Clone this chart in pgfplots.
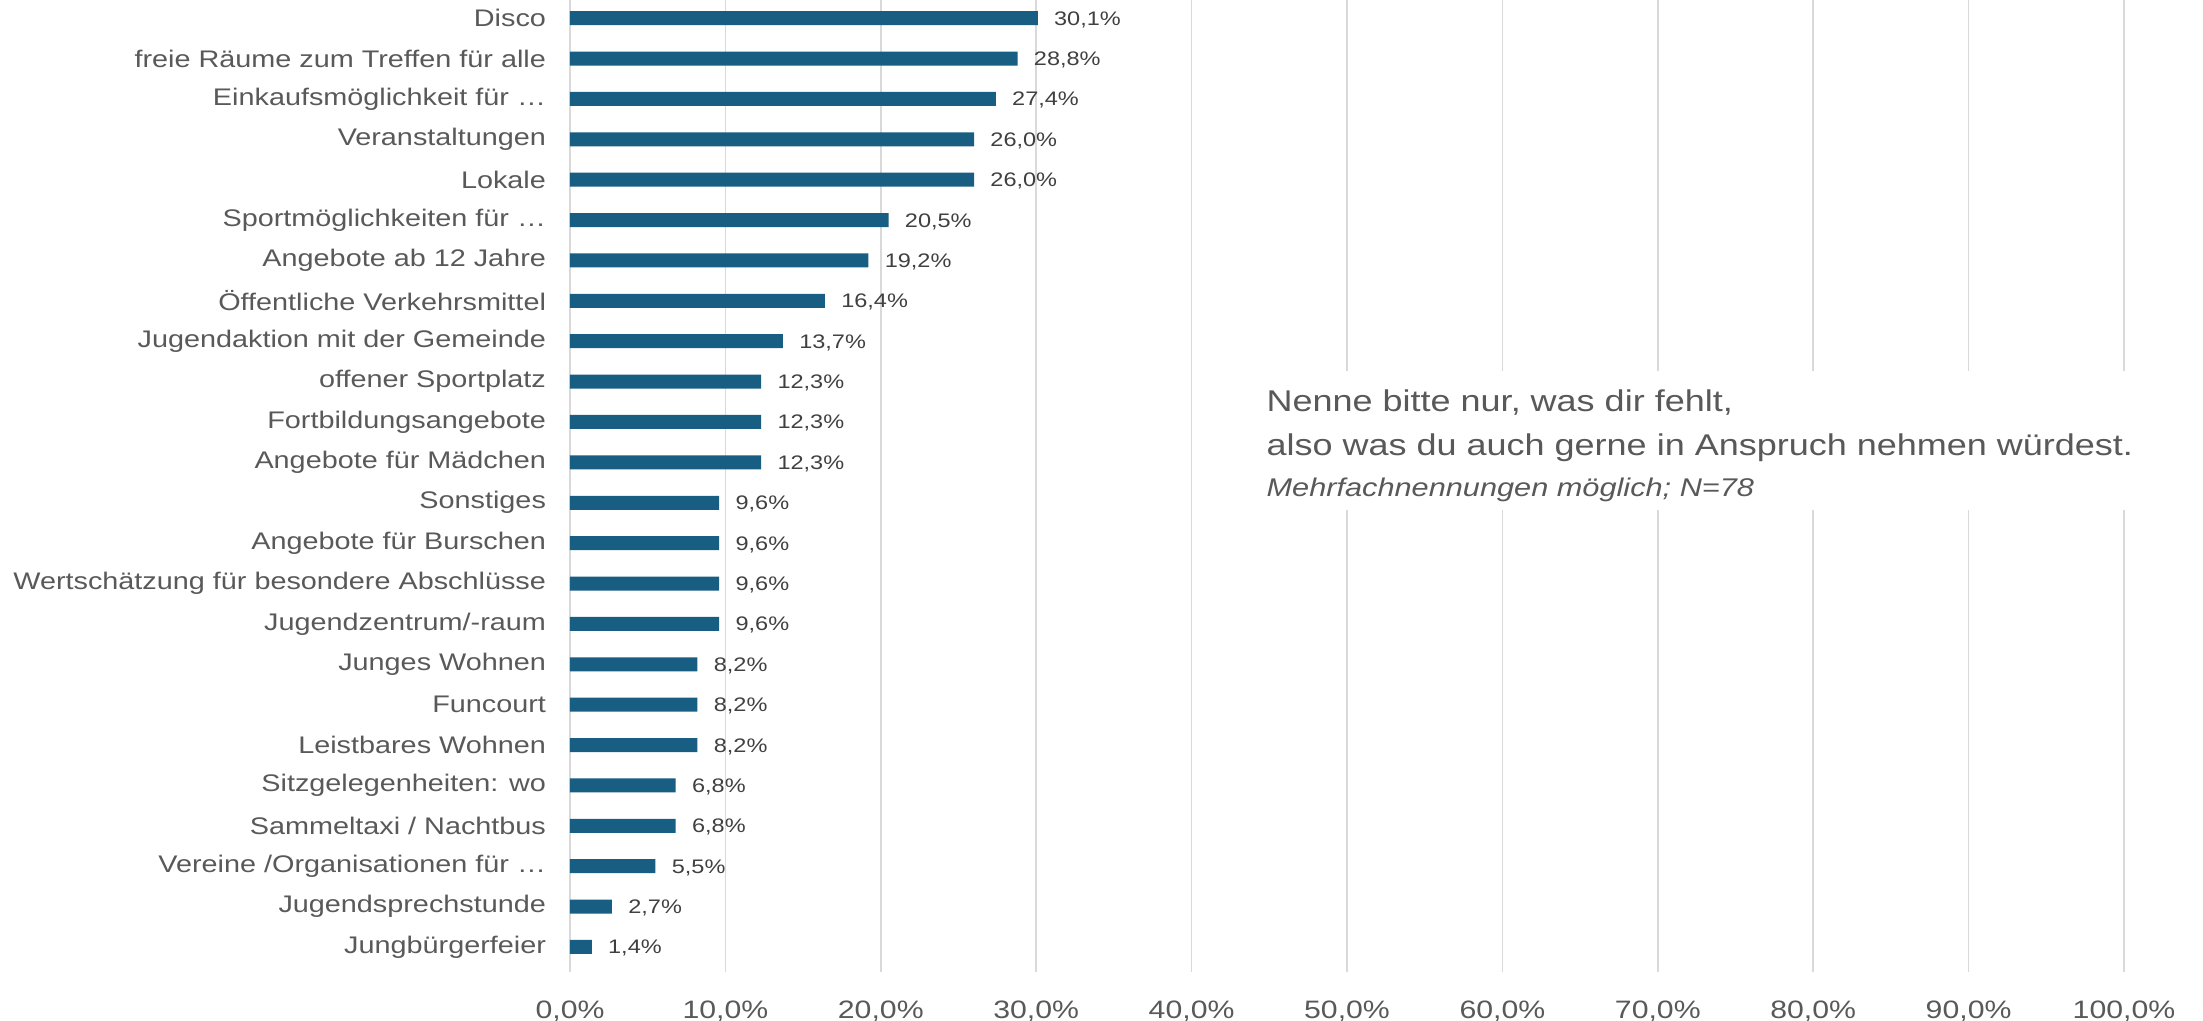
\documentclass[border=0pt]{standalone}
\usepackage{fontspec}
\setmainfont{Liberation Sans}[FakeStretch=1.2]
\usepackage{pgfplots}
\pgfplotsset{compat=1.18}
\usepackage{pgfplotstable}

\definecolor{barblue}{HTML}{185E82}
\definecolor{txtgray}{HTML}{595959}
\definecolor{valgray}{HTML}{404040}
\definecolor{gridgray}{HTML}{D9D9D9}

% Anteil in Prozent, von oben (0) nach unten (23)
\pgfplotstableread[col sep=comma]{
idx,val
0,30.1
1,28.8
2,27.4
3,26.0
4,26.0
5,20.5
6,19.2
7,16.4
8,13.7
9,12.3
10,12.3
11,12.3
12,9.6
13,9.6
14,9.6
15,9.6
16,8.2
17,8.2
18,8.2
19,6.8
20,6.8
21,5.5
22,2.7
23,1.4
}\data

\begin{document}
\begin{tikzpicture}
\begin{axis}[
  scale only axis,
  width=777pt, height=486pt,
  clip=false,
  xbar, bar width=7pt,
  xmin=0, xmax=100,
  ymin=-0.45, ymax=23.62, y dir=reverse,
  xtick={0,10,...,100},
  ytick={0,...,23},
  yticklabels={Disco, freie Räume zum Treffen für alle, Einkaufsmöglichkeit für …,
    Veranstaltungen, Lokale, Sportmöglichkeiten für …, Angebote ab 12 Jahre,
    Öffentliche Verkehrsmittel, Jugendaktion mit der Gemeinde, offener Sportplatz,
    Fortbildungsangebote, Angebote für Mädchen, Sonstiges, Angebote für Burschen,
    Wertschätzung für besondere Abschlüsse, Jugendzentrum/-raum, Junges Wohnen,
    Funcourt, Leistbares Wohnen, Sitzgelegenheiten: wo, Sammeltaxi / Nachtbus,
    Vereine /Organisationen für …, Jugendsprechstunde, Jungbürgerfeier},
  xmajorgrids,
  grid style={gridgray, line width=0.75pt},
  axis line style={draw=none},
  tick style={draw=none},
  major tick length=0pt,
  /pgf/number format/assume math mode=true,
  xticklabel={\pgfmathprintnumber[fixed,fixed zerofill,precision=1,use comma]{\tick}\%},
  xticklabel style={font=\fontsize{12.6}{14}\selectfont, text=txtgray, yshift=-11pt},
  yticklabel style={font=\fontsize{12}{14}\selectfont, text=txtgray, xshift=-8.5pt},
  point meta=x,
  nodes near coords={\pgfmathprintnumber[fixed,fixed zerofill,precision=1,use comma]{\pgfplotspointmeta}\%},
  nodes near coords style={font=\fontsize{9.8}{11}\selectfont, text=valgray,
    anchor=west, inner sep=0pt, text height=7pt, text depth=0pt, xshift=8pt},
]
\addplot[fill=barblue, draw=none] table[x=val, y=idx] {\data};

% weisser Kasten hinter dem Hinweistext
\fill[white] (axis cs:45,8.73) rectangle (axis cs:102,12.18);
\node[anchor=base west, inner sep=0pt, text=txtgray, font=\fontsize{15}{18}\selectfont]
  at (axis cs:44.8,9.73) {Nenne bitte nur, was dir fehlt,};
\node[anchor=base west, inner sep=0pt, text=txtgray, font=\fontsize{15}{18}\selectfont]
  at (axis cs:44.8,10.84) {also was du auch gerne in Anspruch nehmen würdest.};
\node[anchor=base west, inner sep=0pt, text=txtgray, font=\fontsize{12.8}{15}\selectfont\itshape]
  at (axis cs:44.8,11.84) {Mehrfachnennungen möglich; N=78};
\end{axis}
\pgfresetboundingbox
\path ([shift={(-285pt,-24.5pt)}]current axis.south west)
  rectangle ([shift={(39.5pt,0pt)}]current axis.north east);
\end{tikzpicture}
\end{document}
